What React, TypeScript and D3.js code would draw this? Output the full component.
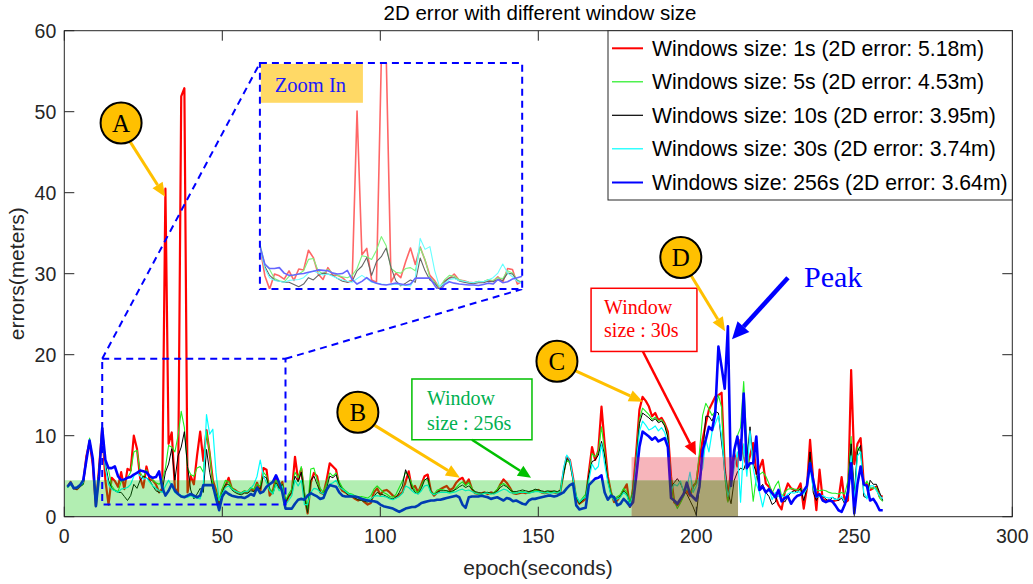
import React from "react";
import * as d3 from "d3";

// ---------- DATA ----------
const xTicks = [0, 50, 100, 150, 200, 250, 300];
const yTicks = [0, 10, 20, 30, 40, 50, 60];

const seriesLabels = [
  "Windows size: 1s (2D error: 5.18m)",
  "Windows size: 5s (2D error: 4.53m)",
  "Windows size: 10s (2D error: 3.95m)",
  "Windows size: 30s (2D error: 3.74m)",
  "Windows size: 256s (2D error: 3.64m)",
];

// errors (meters), one value per epoch second, starting at epoch 1
const err1s = [
  3.7, 4.3, 3.5, 3.4, 3.8, 4.2, 7.5, 9.2, 6.5, 1.3,
  6.0, 10.9, 4.5, 1.5, 4.8, 4.4, 3.7, 5.5, 3.4, 5.9,
  5.7, 10.0, 8.4, 4.8, 3.6, 6.2, 4.6, 4.5, 4.0, 3.0,
  3.5, 40.5, 9.0, 10.4, 3.5, 3.0, 51.9, 52.9, 3.0, 5.0,
  4.0, 7.5, 10.5, 6.9, 10.7, 7.8, 4.5, 3.3, 1.7, 3.3,
  3.8, 4.8, 3.5, 3.3, 3.0, 2.9, 3.1, 3.0, 3.5, 3.2,
  4.2, 3.0, 6.0, 5.8, 2.6, 3.2, 4.9, 3.5, 4.3, 1.6,
  2.5, 3.0, 7.4, 4.5, 5.9, 2.5, 0.4, 4.2, 5.4, 5.0,
  3.0, 2.8, 4.5, 6.6, 6.2, 5.8, 3.8, 3.2, 3.0, 2.7,
  2.5, 2.2, 2.0, 2.2, 1.8, 1.5, 1.7, 3.0, 3.5, 2.7,
  3.2, 3.3, 3.0, 2.6, 2.4, 2.7, 3.0, 4.3, 5.6, 3.5,
  3.8, 3.0, 4.0, 5.0, 5.2, 3.2, 2.6, 3.0, 3.4, 3.6,
  3.8, 3.3, 3.5, 4.2, 4.6, 4.8, 4.0, 4.6, 3.4, 2.9,
  2.8, 2.9, 3.0, 2.8, 3.0, 2.9, 3.2, 4.0, 4.6, 4.2,
  3.6, 2.9, 2.8, 2.9, 3.0, 2.9, 3.0, 3.1, 3.2, 3.3,
  3.0, 2.9, 3.0, 3.1, 3.0, 2.9, 3.1, 5.5, 7.4, 7.0,
  4.8, 2.2, 1.6, 1.9, 2.2, 5.5, 8.6, 7.0, 8.2, 13.6,
  9.0, 5.0, 3.0, 1.8, 2.0, 2.6, 3.3, 4.0, 1.2, 3.5,
  8.0, 13.2, 14.8, 14.3, 13.6, 12.4, 12.8, 11.9, 12.2, 11.5,
  10.5, 5.0, 1.8, 1.4, 2.0, 2.8, 3.2, 2.6, 3.8, 4.2,
  7.0, 9.5, 11.5, 13.2, 14.0, 14.8, 15.0, 15.3, 6.0, 2.0,
  6.0, 7.8, 6.2, 9.5, 7.4, 6.2, 7.5, 9.1, 5.3, 6.0,
  7.0, 4.1, 3.7, 3.0, 2.5, 1.5, 0.9, 3.0, 4.1, 3.5,
  3.3, 3.3, 4.1, 1.0, 3.5, 9.5, 4.5, 0.8, 5.8, 2.1,
  2.0, 2.0, 1.9, 2.0, 2.1, 4.9, 1.7, 2.0, 18.1, 6.5,
  9.0, 9.7, 4.1, 4.0, 3.3, 3.5, 3.7, 2.5, 2.5,
];

const err5s = [
  3.6, 4.2, 3.6, 3.5, 3.8, 4.0, 7.0, 9.7, 7.0, 1.5,
  6.0, 11.5, 7.0, 5.8, 3.8, 3.3, 3.1, 4.3, 4.6, 4.8,
  5.5, 8.0, 8.2, 5.5, 4.8, 5.8, 5.0, 4.5, 4.2, 4.0,
  4.5, 6.0, 8.8, 8.6, 8.0, 10.0, 13.0, 11.0, 6.0, 5.2,
  5.0, 6.0, 6.2, 5.5, 10.5, 8.0, 4.0, 3.0, 2.0, 3.5,
  4.5, 4.3, 3.6, 3.2, 3.0, 2.9, 3.2, 3.1, 3.6, 3.4,
  4.0, 3.8, 5.5, 5.0, 3.5, 3.0, 4.5, 4.0, 4.0, 2.0,
  2.8, 3.4, 5.5, 4.8, 6.2, 3.0, 1.0, 5.9, 6.0, 4.5,
  3.5, 3.0, 4.0, 5.4, 5.0, 5.4, 4.3, 3.6, 3.2, 2.9,
  2.8, 2.6, 2.4, 2.5, 2.4, 2.3, 2.6, 3.4, 3.8, 3.4,
  3.0, 2.8, 2.5, 2.4, 2.8, 3.6, 4.4, 5.5, 5.0, 4.0,
  3.2, 3.0, 3.8, 4.6, 4.5, 3.0, 2.8, 3.3, 3.4, 3.3,
  3.2, 3.0, 3.1, 3.6, 4.0, 4.3, 3.8, 4.2, 3.5, 3.0,
  2.8, 2.7, 2.9, 3.0, 2.8, 3.0, 3.4, 3.9, 4.1, 3.8,
  3.4, 3.0, 2.9, 3.0, 3.1, 3.0, 2.9, 3.1, 3.3, 3.2,
  3.0, 3.0, 3.1, 3.0, 3.1, 3.0, 3.2, 5.2, 7.0, 6.6,
  4.5, 2.5, 1.8, 2.3, 2.8, 5.0, 7.8, 7.4, 8.0, 11.1,
  8.0, 4.6, 3.0, 2.2, 2.5, 2.7, 3.5, 3.0, 1.8, 3.3,
  7.5, 12.0, 13.4, 13.0, 12.6, 12.0, 12.3, 11.8, 12.0, 11.4,
  10.0, 4.5, 1.9, 1.0, 1.7, 2.5, 3.5, 2.8, 3.5, 4.5,
  8.0, 12.5, 14.0, 13.3, 12.5, 13.0, 15.0, 13.5, 5.0, 1.8,
  5.0, 7.5, 10.0, 11.0, 16.7, 9.0, 6.0, 1.9, 4.9, 5.2,
  5.5, 5.0, 4.1, 2.9, 3.8, 4.4, 2.5, 3.0, 3.4, 3.5,
  3.4, 3.3, 3.5, 3.0, 3.8, 7.5, 4.5, 3.3, 3.2, 3.3,
  3.2, 3.0, 2.9, 2.9, 2.8, 3.0, 2.8, 4.5, 9.9, 1.2,
  8.6, 8.0, 3.8, 4.4, 3.6, 3.5, 3.6, 2.3, 1.9,
];

const err10s = [
  3.6, 4.1, 3.5, 3.4, 3.7, 4.0, 7.0, 9.3, 6.8, 1.4,
  6.0, 10.8, 6.5, 4.5, 3.5, 3.2, 3.0, 3.0, 2.5, 2.0,
  2.6, 4.0, 3.5, 4.5, 5.0, 4.8, 4.5, 3.8, 3.2, 3.0,
  3.2, 5.5, 6.5, 8.4, 4.5, 7.5, 8.6, 10.5, 6.2, 3.3,
  2.2, 2.8, 3.5, 3.0, 8.3, 5.5, 3.5, 2.8, 1.3, 3.0,
  4.0, 4.0, 3.3, 3.0, 2.8, 2.7, 2.9, 2.9, 3.2, 3.1,
  3.6, 3.4, 5.0, 4.8, 3.3, 2.8, 4.2, 3.5, 4.0, 1.8,
  2.5, 3.0, 5.0, 4.3, 5.5, 2.5, 0.5, 4.5, 5.0, 4.0,
  3.0, 2.8, 3.5, 5.0, 4.8, 5.2, 4.0, 3.4, 3.0, 2.6,
  2.5, 2.3, 2.1, 2.0, 1.9, 1.8, 2.0, 2.5, 3.0, 2.8,
  2.7, 2.5, 2.3, 2.2, 2.4, 3.0, 3.8, 5.8, 4.8, 3.6,
  3.0, 2.8, 3.5, 4.5, 4.8, 3.1, 2.7, 3.0, 3.2, 3.2,
  3.2, 3.1, 3.2, 3.4, 3.7, 3.9, 3.6, 3.8, 3.4, 3.1,
  3.0, 2.9, 3.0, 3.0, 2.9, 2.9, 3.2, 3.6, 3.9, 3.7,
  3.3, 3.1, 3.1, 3.2, 3.3, 3.2, 3.1, 3.2, 3.4, 3.3,
  3.2, 3.1, 3.2, 3.1, 3.2, 3.1, 3.3, 5.3, 7.2, 6.8,
  4.6, 2.4, 1.6, 2.0, 2.5, 5.2, 6.8, 7.0, 7.6, 9.3,
  7.5, 4.5, 2.8, 2.0, 2.3, 2.5, 3.2, 2.8, 1.5, 3.0,
  7.0, 11.5, 12.8, 12.5, 12.2, 11.8, 12.1, 11.6, 11.8, 11.2,
  9.8, 3.7, 4.2, 4.7, 4.1, 3.2, 2.8, 2.0, 1.2, 0.2,
  3.8, 7.4, 12.4, 12.4, 11.8, 13.0, 12.8, 9.1, 6.0, 3.0,
  1.6, 4.5, 5.5, 6.0, 5.8, 7.0, 11.1, 6.5, 5.5, 3.5,
  4.0, 3.0, 2.5, 1.5, 1.8, 3.0, 2.2, 1.8, 2.5, 3.0,
  3.2, 3.0, 3.5, 2.0, 3.5, 8.0, 3.0, 2.0, 2.8, 2.5,
  2.2, 1.8, 2.4, 2.2, 2.0, 2.3, 1.6, 3.5, 9.0, 3.0,
  8.0, 8.8, 2.5, 2.3, 4.5, 4.0, 4.0, 3.0, 2.0,
];

const err30s = [
  3.6, 4.0, 3.5, 3.5, 3.8, 4.2, 7.2, 9.5, 6.8, 1.5,
  5.5, 10.5, 6.0, 4.0, 3.4, 3.2, 3.0, 3.4, 3.5, 3.6,
  4.0, 5.0, 5.5, 5.0, 4.6, 4.8, 4.3, 3.8, 3.5, 3.2,
  3.0, 3.8, 4.5, 3.8, 3.0, 2.8, 2.6, 2.5, 2.4, 2.6,
  2.4, 2.3, 2.2, 4.0, 12.6, 10.2, 10.8, 5.5, 2.0, 2.8,
  3.6, 3.8, 3.4, 3.2, 3.0, 2.9, 3.1, 3.1, 3.5, 4.0,
  5.0, 7.0, 5.0, 4.2, 3.2, 2.8, 4.0, 3.2, 3.8, 1.5,
  2.0, 2.6, 4.5, 3.8, 4.5, 1.5, 1.5, 3.0, 3.5, 3.4,
  3.0, 2.8, 3.2, 4.0, 4.2, 4.5, 3.7, 3.4, 3.1, 2.8,
  2.7, 2.5, 2.4, 2.3, 2.2, 2.1, 2.2, 2.5, 2.6, 2.5,
  2.5, 2.4, 2.2, 2.1, 2.3, 2.5, 2.9, 3.8, 3.6, 3.2,
  2.9, 2.8, 3.2, 3.8, 3.9, 3.0, 2.7, 2.9, 3.0, 3.0,
  3.0, 2.9, 3.0, 3.1, 3.3, 3.4, 3.2, 3.3, 3.1, 2.9,
  2.8, 2.8, 2.9, 2.9, 2.8, 2.8, 3.0, 3.2, 3.4, 3.3,
  3.0, 2.9, 2.9, 3.0, 3.0, 3.0, 2.9, 3.0, 3.1, 3.1,
  3.0, 2.9, 3.0, 2.9, 3.0, 2.9, 3.1, 6.0, 7.6, 7.0,
  4.7, 2.6, 1.8, 2.2, 2.4, 4.5, 6.5, 5.8, 6.2, 9.0,
  6.5, 4.2, 2.6, 2.0, 2.2, 2.4, 3.0, 2.6, 1.5, 2.8,
  6.5, 10.5, 11.8, 11.3, 10.7, 10.9, 11.2, 10.6, 11.0, 10.4,
  9.0, 3.2, 4.0, 3.8, 4.4, 3.0, 3.5, 5.5, 3.0, 3.8,
  5.0, 6.0, 9.5, 8.0, 10.5, 11.5, 12.5, 10.0, 5.5, 2.5,
  4.0, 6.0, 8.0, 1.8, 9.0, 5.0, 10.6, 6.0, 4.0, 3.0,
  1.2, 3.0, 3.5, 2.1, 3.0, 2.5, 2.6, 2.4, 2.8, 3.0,
  2.9, 3.1, 3.0, 2.8, 3.5, 6.0, 3.5, 2.4, 2.5, 2.6,
  2.4, 2.3, 2.4, 2.1, 2.2, 2.5, 1.8, 2.8, 7.5, 2.0,
  7.5, 8.0, 3.0, 2.2, 3.8, 3.8, 3.2, 2.6, 2.2,
];

const err256s = [
  3.7, 4.2, 3.5, 3.6, 3.9, 4.5, 7.0, 9.4, 7.2, 1.3,
  5.0, 10.9, 7.0, 6.0, 6.0, 6.2, 5.0, 4.5, 4.6, 4.8,
  4.9, 5.2, 5.4, 5.7, 5.6, 5.5, 5.0, 4.8, 4.9, 5.6,
  3.6, 2.6, 3.2, 4.0, 3.2, 2.8, 2.5, 2.4, 2.6, 2.8,
  2.6, 2.4, 2.6, 3.9, 3.9, 3.9, 3.9, 2.3, 0.8, 2.5,
  3.1, 2.8, 2.6, 2.5, 2.4, 2.4, 2.3, 2.5, 2.8, 2.6,
  3.6, 2.9, 3.1, 3.7, 4.0, 4.3, 5.1, 4.2, 3.0, 1.0,
  1.0, 1.0, 1.6, 2.1, 2.2, 2.1, 2.6, 2.9, 2.7, 2.5,
  2.2, 2.3, 3.3, 3.9, 3.8, 3.7, 3.0, 2.6, 2.5, 2.5,
  2.5, 2.5, 2.4, 2.2, 2.1, 2.0, 1.9, 1.9, 1.8, 1.5,
  1.3, 1.2, 1.1, 1.0, 0.8, 0.6, 0.8, 1.0, 1.1, 1.2,
  1.2, 1.4, 1.7, 1.8, 1.9, 2.0, 2.0, 2.1, 2.1, 2.2,
  2.3, 2.4, 2.5, 2.6, 2.4, 1.5, 1.1, 2.4, 2.5, 2.5,
  2.5, 2.6, 2.5, 2.4, 2.2, 2.3, 2.4, 2.2, 2.0, 2.3,
  2.2, 1.9, 2.0, 1.8, 1.6, 1.5, 2.0, 2.2, 2.2, 2.3,
  2.4, 2.5, 2.6, 2.6, 2.5, 2.6, 2.8, 3.0, 3.5, 3.9,
  4.1, 1.4, 0.9, 1.0, 1.1, 3.9, 4.3, 4.7, 4.8, 5.1,
  3.0, 2.1, 2.6, 2.4, 1.4, 1.6, 2.2, 1.8, 1.3, 1.8,
  5.0, 8.6, 10.5, 10.2, 9.9, 9.5, 9.8, 9.3, 9.5, 9.7,
  8.6, 2.3, 2.0, 1.6, 2.2, 2.8, 4.2, 2.8, 2.4, 2.0,
  3.7, 8.2, 9.5, 11.1, 10.7, 12.8, 21.0, 18.5, 15.8, 23.5,
  3.8, 8.2, 9.9, 7.0, 15.2, 6.0, 6.6, 6.6, 9.9, 3.3,
  3.7, 3.0, 3.4, 2.9, 2.4, 3.3, 1.9, 2.3, 2.5, 1.6,
  2.2, 2.6, 2.7, 3.2, 3.8, 6.6, 4.5, 2.5, 2.8, 2.0,
  1.8, 2.0, 1.9, 1.4, 0.8, 0.6, 1.5, 3.0, 6.6, 0.4,
  4.0, 6.2, 4.0, 3.8, 2.0, 2.2, 1.6, 0.8, 0.8,
];

const seriesData = [err1s, err5s, err10s, err30s, err256s];

// ---------- STYLE ----------
const seriesColors = ["#ff0000", "#22ee22", "#000000", "#00ffff", "#0000ff"];
const seriesWidths = [2.2, 1.1, 1.0, 1.2, 2.6];
const SANS = "'Liberation Sans', Arial, Helvetica, sans-serif";
const SERIF = "'Liberation Serif', 'Times New Roman', serif";
const ORANGE = "#ffc000";

const W = 1033;
const H = 584;
const plot = { left: 64.3, right: 1012.3, top: 30.7, bottom: 516.7 };

const x = d3.scaleLinear().domain([0, 300]).range([plot.left, plot.right]);
const y = d3.scaleLinear().domain([0, 60]).range([plot.bottom, plot.top]);

// inset (zoomed view) placed in data coords of main axes
const insetBox = { t0: 61.9, t1: 144.9, v0: 28.1, v1: 56.0 };
const zoomLabelBox = { t0: 62.2, t1: 94.5, v0: 51.1, v1: 55.9 };
const zoomRegion = { t0: 12, t1: 70, v0: 1.5, v1: 19.5 };
const insetDomainX = [12, 66];
const insetDomainY = [1.5, 51];

function Arrow({ x1, y1, x2, y2, color, width, hl, hw }: any) {
  const a = Math.atan2(y2 - y1, x2 - x1);
  const bx = x2 - hl * Math.cos(a);
  const by = y2 - hl * Math.sin(a);
  const px = -Math.sin(a) * hw;
  const py = Math.cos(a) * hw;
  return (
    <g>
      <line x1={x1} y1={y1} x2={bx} y2={by} stroke={color} strokeWidth={width} />
      <polygon points={`${x2},${y2} ${bx + px},${by + py} ${bx - px},${by - py}`} fill={color} />
    </g>
  );
}

function Badge({ t, v, label }: any) {
  return (
    <g>
      <circle cx={x(t)} cy={y(v)} r={20.5} fill={ORANGE} stroke="#000" strokeWidth={2} />
      <text x={x(t)} y={y(v)} dy="0.35em" textAnchor="middle" fontFamily={SERIF} fontSize={25} fill="#000">
        {label}
      </text>
    </g>
  );
}

export default function App() {
  const mainLine = (data: number[]) =>
    d3.line<number>().x((_, i) => x(i + 1)).y((d) => y(d))(data) || "";

  const ix = d3.scaleLinear().domain(insetDomainX).range([x(insetBox.t0), x(insetBox.t1)]);
  const iy = d3.scaleLinear().domain(insetDomainY).range([y(insetBox.v0), y(insetBox.v1)]);
  const insetLine = (data: number[]) =>
    d3.line<number>().x((_, i) => ix(i + 1)).y((d) => iy(d))(data) || "";

  const tickLen = 10;
  const bandGreen = { t0: 0, t1: 213.2, v0: 0, v1: 4.5 };
  const bandRed = { t0: 179.5, t1: 213.2, v0: 0, v1: 7.35 };

  const legendRowsY = [48.3, 81.8, 115.3, 148.8, 182.5];

  const insetRect = {
    x: x(insetBox.t0),
    y: y(insetBox.v1),
    width: x(insetBox.t1) - x(insetBox.t0),
    height: y(insetBox.v0) - y(insetBox.v1),
  };

  return (
    <svg
      width={W}
      height={H}
      viewBox={`0 0 ${W} ${H}`}
      style={{ position: "fixed", left: 0, top: 0, background: "#fff" }}
    >
      <defs>
        <clipPath id="plotClip">
          <rect x={plot.left} y={plot.top} width={plot.right - plot.left} height={plot.bottom - plot.top} />
        </clipPath>
        <clipPath id="insetClip">
          <rect {...insetRect} />
        </clipPath>
      </defs>

      {/* title */}
      <text x={540} y={20} textAnchor="middle" fontFamily={SANS} fontSize={20.5} fill="#000">
        2D error with different window size
      </text>

      {/* lines */}
      <g clipPath="url(#plotClip)" fill="none" strokeLinejoin="round">
        {seriesData.map((d, k) => (
          <path key={k} d={mainLine(d)} stroke={seriesColors[k]} strokeWidth={seriesWidths[k]} />
        ))}
      </g>

      {/* shaded bands (over lines) */}
      <rect
        x={x(bandGreen.t0)}
        y={y(bandGreen.v1)}
        width={x(bandRed.t0) - x(bandGreen.t0)}
        height={y(bandGreen.v0) - y(bandGreen.v1)}
        fill="rgb(0,200,0)"
        fillOpacity={0.3}
      />
      <rect
        x={x(bandRed.t0)}
        y={y(bandRed.v1)}
        width={x(bandRed.t1) - x(bandRed.t0)}
        height={y(bandGreen.v1) - y(bandRed.v1)}
        fill="rgb(230,30,50)"
        fillOpacity={0.33}
      />
      <rect
        x={x(bandRed.t0)}
        y={y(bandGreen.v1)}
        width={x(bandRed.t1) - x(bandRed.t0)}
        height={y(bandRed.v0) - y(bandGreen.v1)}
        fill="rgb(100,90,0)"
        fillOpacity={0.55}
      />

      {/* zoom region + connectors */}
      <g fill="none" stroke="#0000ff" strokeWidth={2} strokeDasharray="7,5">
        <rect
          x={x(zoomRegion.t0)}
          y={y(zoomRegion.v1)}
          width={x(zoomRegion.t1) - x(zoomRegion.t0)}
          height={y(zoomRegion.v0) - y(zoomRegion.v1)}
        />
        <line x1={x(zoomRegion.t0)} y1={y(zoomRegion.v1)} x2={x(insetBox.t0)} y2={y(insetBox.v1)} />
        <line x1={x(zoomRegion.t1)} y1={y(zoomRegion.v1)} x2={x(insetBox.t1)} y2={y(insetBox.v0)} />
      </g>

      {/* inset */}
      <rect {...insetRect} fill="#fff" />
      <g clipPath="url(#insetClip)" fill="none" strokeLinejoin="round" opacity={0.6}>
        {seriesData.map((d, k) => (
          <path key={k} d={insetLine(d)} stroke={seriesColors[k]} strokeWidth={k === 0 || k === 4 ? 1.6 : 1.1} />
        ))}
      </g>
      <rect
        x={x(zoomLabelBox.t0)}
        y={y(zoomLabelBox.v1)}
        width={x(zoomLabelBox.t1) - x(zoomLabelBox.t0)}
        height={y(zoomLabelBox.v0) - y(zoomLabelBox.v1)}
        fill="#ffd966"
      />
      <text x={x(zoomLabelBox.t0) + 14} y={y(zoomLabelBox.v0) - 11} fontFamily={SERIF} fontSize={20.5} fill="#1a1aff">
        Zoom In
      </text>
      <rect {...insetRect} fill="none" stroke="#0000ff" strokeWidth={2} strokeDasharray="7,5" />

      {/* annotation boxes */}
      <rect x={x(110.0)} y={y(17.0)} width={x(148.0) - x(110.0)} height={y(9.5) - y(17.0)} fill="#fff" stroke="#00c000" strokeWidth={1.5} />
      <text fontFamily={SERIF} fontSize={20} fill="#00b050">
        <tspan x={x(110.0) + 15} y={y(17.0) + 26}>Window</tspan>
        <tspan x={x(110.0) + 15} y={y(17.0) + 51}>size : 256s</tspan>
      </text>
      <rect x={x(166.7)} y={y(28.2)} width={x(200.2) - x(166.7)} height={y(20.4) - y(28.2)} fill="#fff" stroke="#ff0000" strokeWidth={1.5} />
      <text fontFamily={SERIF} fontSize={20} fill="#ff0000">
        <tspan x={x(166.7) + 13} y={y(28.2) + 26}>Window</tspan>
        <tspan x={x(166.7) + 13} y={y(28.2) + 49}>size : 30s</tspan>
      </text>
      <text x={x(234.1)} y={y(28.3)} fontFamily={SERIF} fontSize={30} fill="#0000ff">
        Peak
      </text>

      {/* arrows */}
      <Arrow x1={x(20.8)} y1={y(46.3)} x2={x(31.9)} y2={y(39.5)} color={ORANGE} width={3} hl={14} hw={6} />
      <Arrow x1={x(97.7)} y1={y(11.4)} x2={x(125.2)} y2={y(4.8)} color={ORANGE} width={3} hl={14} hw={6} />
      <Arrow x1={x(161.3)} y1={y(18.1)} x2={x(183.1)} y2={y(14.2)} color={ORANGE} width={3} hl={14} hw={6} />
      <Arrow x1={x(198.3)} y1={y(29.8)} x2={x(209.1)} y2={y(22.9)} color={ORANGE} width={3} hl={14} hw={6} />
      <Arrow x1={x(129.0)} y1={y(9.5)} x2={x(147.7)} y2={y(4.8)} color="#00c000" width={2.5} hl={13} hw={6} />
      <Arrow x1={x(183.1)} y1={y(20.4)} x2={x(199.9)} y2={y(7.6)} color="#ff0000" width={2.5} hl={13} hw={6} />
      <Arrow x1={x(229.0)} y1={y(29.5)} x2={x(211.3)} y2={y(21.9)} color="#0000ff" width={4.5} hl={17} hw={8} />

      <Badge t={17.97} v={48.6} label="A" />
      <Badge t={92.9} v={12.9} label="B" />
      <Badge t={155.9} v={19.2} label="C" />
      <Badge t={195.1} v={32.0} label="D" />

      {/* axes box */}
      <rect
        x={plot.left}
        y={plot.top}
        width={plot.right - plot.left}
        height={plot.bottom - plot.top}
        fill="none"
        stroke="#262626"
        strokeWidth={1}
      />
      <g stroke="#262626" strokeWidth={1}>
        {xTicks.map((t) => (
          <g key={"xt" + t}>
            <line x1={x(t)} x2={x(t)} y1={plot.bottom} y2={plot.bottom - tickLen} />
            <line x1={x(t)} x2={x(t)} y1={plot.top} y2={plot.top + tickLen} />
          </g>
        ))}
        {yTicks.map((v) => (
          <g key={"yt" + v}>
            <line x1={plot.left} x2={plot.left + tickLen} y1={y(v)} y2={y(v)} />
            <line x1={plot.right} x2={plot.right - tickLen} y1={y(v)} y2={y(v)} />
          </g>
        ))}
      </g>
      <g fontFamily={SANS} fontSize={19.5} fill="#262626">
        {xTicks.map((t) => (
          <text key={"xl" + t} x={x(t)} y={plot.bottom + 26} textAnchor="middle">
            {t}
          </text>
        ))}
        {yTicks.map((v) => (
          <text key={"yl" + v} x={plot.left - 8} y={y(v)} dy="0.35em" textAnchor="end">
            {v}
          </text>
        ))}
      </g>
      <text x={538} y={575} textAnchor="middle" fontFamily={SANS} fontSize={21} fill="#262626">
        epoch(seconds)
      </text>
      <text
        transform={`translate(24, ${(plot.top + plot.bottom) / 2}) rotate(-90)`}
        textAnchor="middle"
        fontFamily={SANS}
        fontSize={21}
        fill="#262626"
      >
        errors(meters)
      </text>

      {/* legend */}
      <rect x={608} y={plot.top} width={plot.right - 608} height={200 - plot.top} fill="#fff" stroke="#262626" strokeWidth={1} />
      {seriesLabels.map((lab, k) => (
        <g key={"lg" + k}>
          <line x1={612} x2={643} y1={legendRowsY[k]} y2={legendRowsY[k]} stroke={seriesColors[k]} strokeWidth={k === 0 || k === 4 ? 2 : 1.2} />
          <text x={652} y={legendRowsY[k]} dy="0.36em" fontFamily={SANS} fontSize={21.2} fill="#000">
            {lab}
          </text>
        </g>
      ))}
    </svg>
  );
}
